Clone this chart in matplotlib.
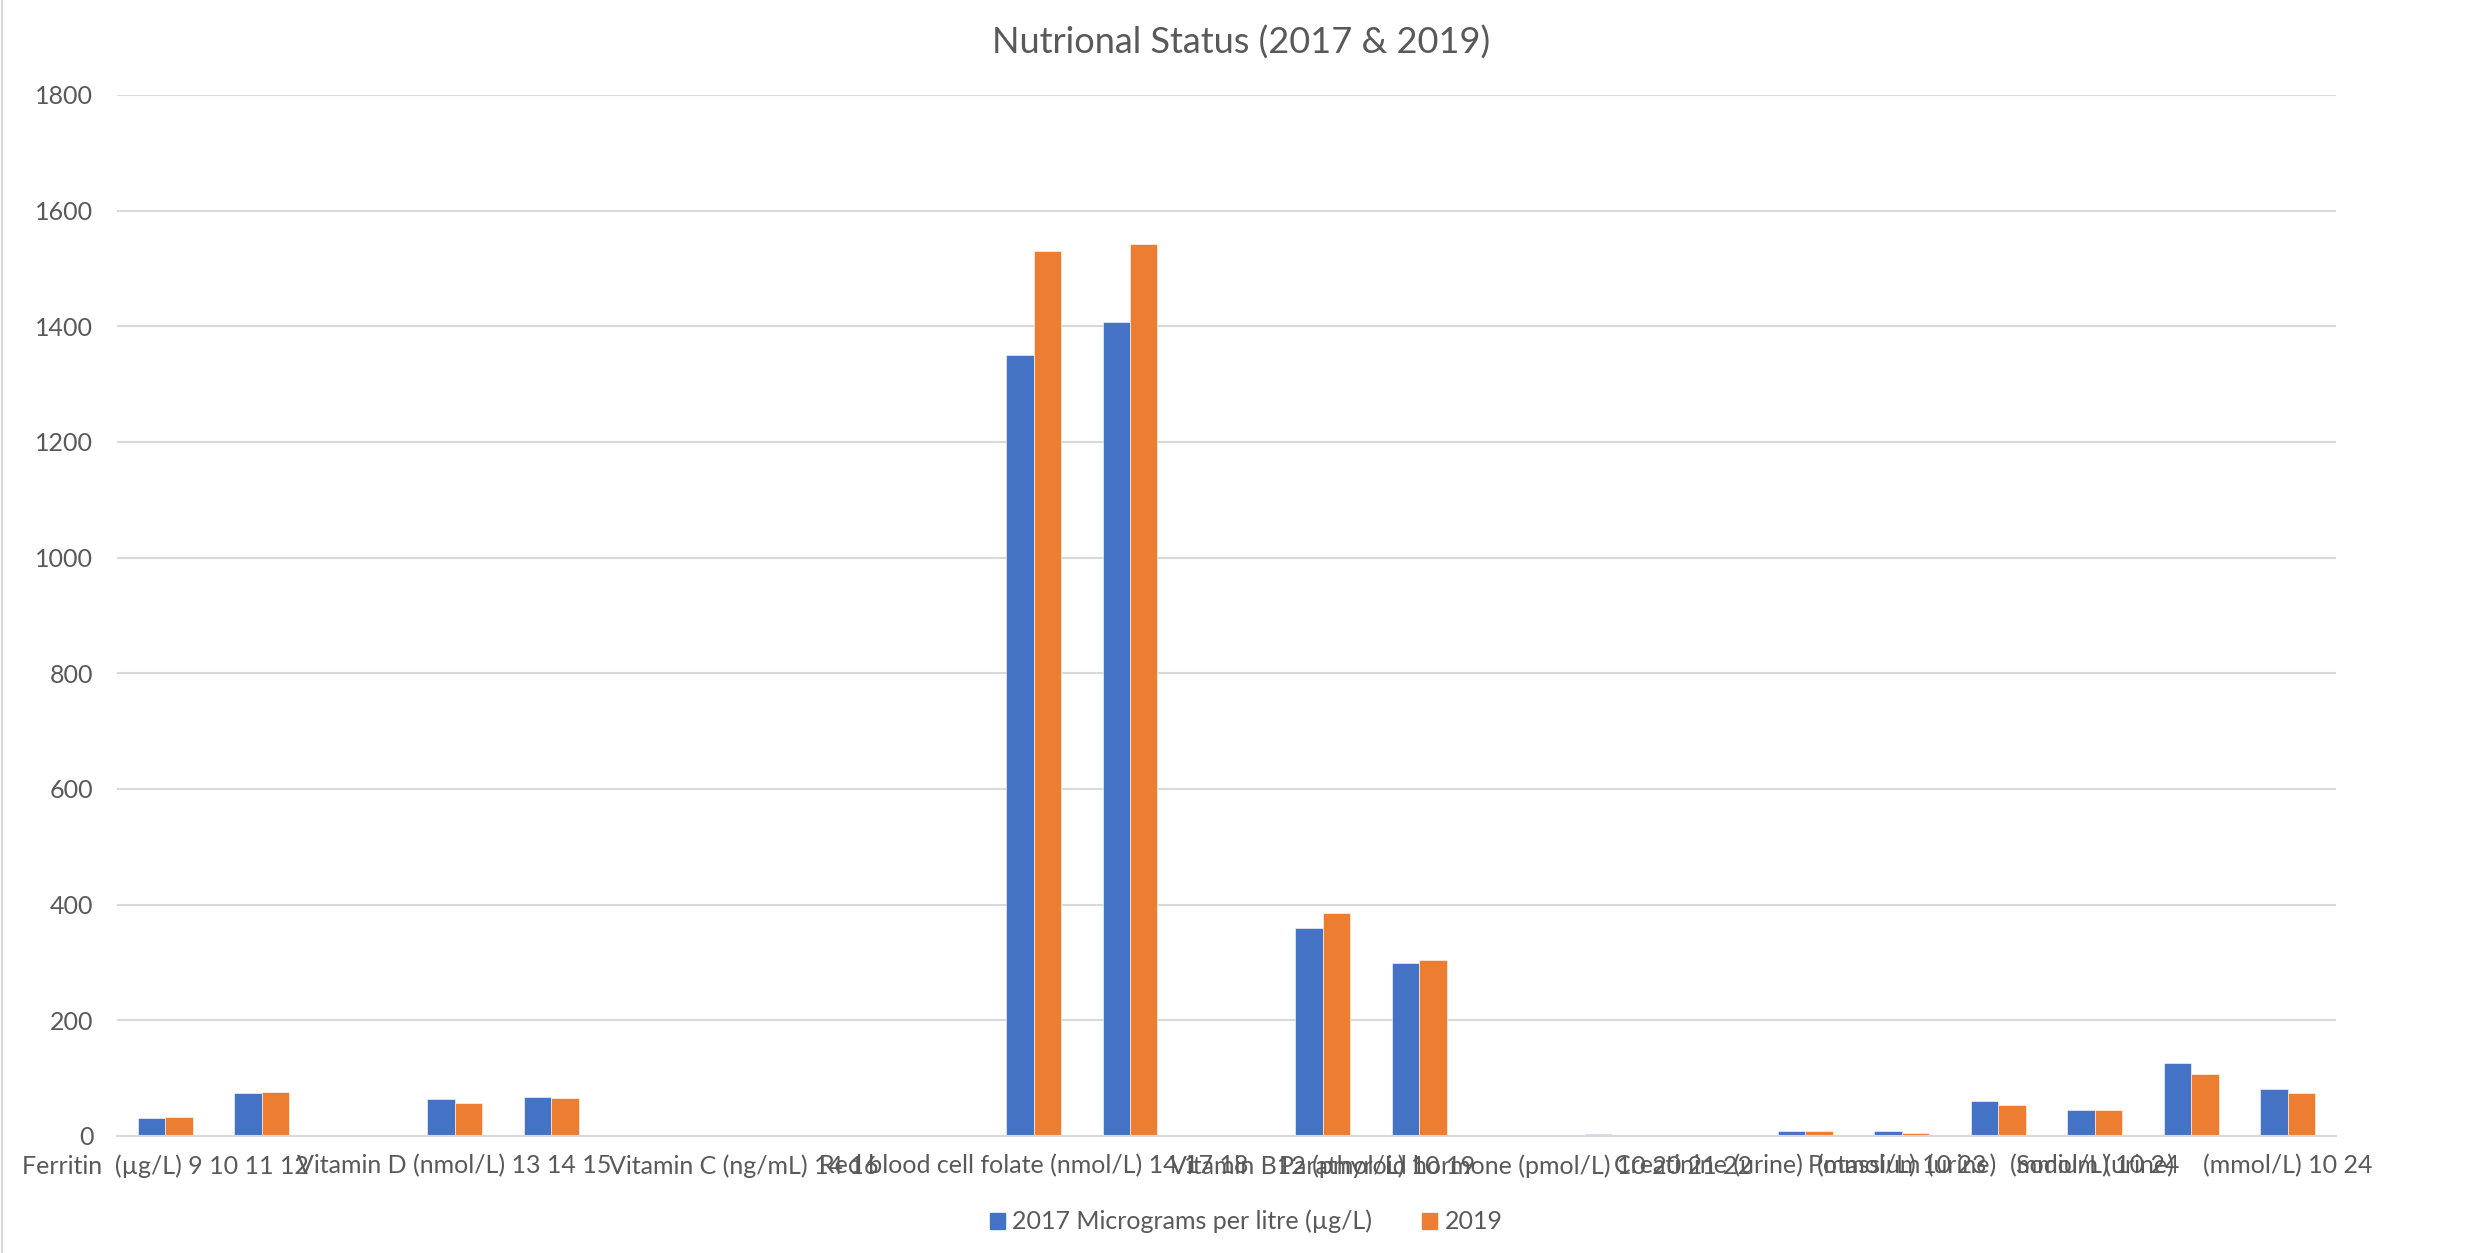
import numpy as np
import matplotlib
matplotlib.use("Agg")
import matplotlib.pyplot as plt
from matplotlib.patches import Patch
from matplotlib.ticker import FixedLocator, FixedFormatter

# Data (23 category slots, many empty)
values_2017 = [30.6, 73.8, 0, 63.4, 66.9, 0, 0, 0, 0, 1351, 1407, 0, 359, 299,
               0, 2.9, 0, 8.1, 8.1, 60, 45, 126, 82]
values_2019 = [32.3, 76, 0, 56.5, 65.2, 0, 0, 0, 0, 1531, 1542, 0, 386, 304,
               0, 2.3, 0, 8.1, 5.2, 53.6, 45, 106.7, 73.8]

# category labels (positions of the slots that carry a label)
label_pos = [0, 3, 6, 9, 12, 14, 16, 18, 20, 22]
label_text = ["Ferritin  (\u00b5g/L) 9 10 11 12",
              "Vitamin D (nmol/L) 13 14 15",
              "Vitamin C (ng/mL) 14 16",
              "Red blood cell folate (nmol/L) 14 17 18",
              "Vitamin B12 (pmol/L) 10 19",
              "Parathyroid hormone (pmol/L) 10 20 21 22",
              "Creatinine (urine)",
              "Potassium (urine)",
              "Sodium (urine)",
              "(mmol/L) 10 24"]
# second line of some labels, which Excel drew on top of the first
unit_pos = [18, 20]
unit_text = ["(mmol/L) 10 23", "(mmol/L) 10 24"]

series_names = ["2017 Micrograms per litre (\u00b5g/L)", "2019"]
title = "Nutrional Status (2017 & 2019)"

blue = "#4472C4"
orange = "#ED7D31"
grey_text = "#595959"
grid_col = "#D9D9D9"

plt.rcParams['font.family'] = ['Lato', 'DejaVu Sans']

fig = plt.figure(figsize=(24.83, 12.53), dpi=100)
ax = fig.add_axes([0.0471, 0.0934, 0.8937, 0.8308])

x = np.arange(len(values_2017))
w = 0.285
ax.bar(x - w / 2, values_2017, width=w, color=blue, edgecolor="white", linewidth=0.4)
ax.bar(x + w / 2, values_2019, width=w, color=orange, edgecolor="white", linewidth=0.4)

ax.set_xlim(-0.5, len(x) - 0.5)
ax.set_ylim(0, 1800)
ax.set_yticks(np.arange(0, 1801, 200))
ax.yaxis.grid(True, color=grid_col, linewidth=1.5)
ax.set_axisbelow(True)
for s in ["top", "right", "left"]:
    ax.spines[s].set_visible(False)
ax.spines["bottom"].set_color(grid_col)
ax.spines["bottom"].set_linewidth(1.5)

ax.xaxis.remove_overlapping_locs = False
ax.xaxis.set_major_locator(FixedLocator(label_pos))
ax.xaxis.set_major_formatter(FixedFormatter(label_text))
ax.xaxis.set_minor_locator(FixedLocator(unit_pos))
ax.xaxis.set_minor_formatter(FixedFormatter(unit_text))
ax.tick_params(axis="x", which="both", length=0, pad=13, labelsize=18, labelcolor=grey_text)
ax.tick_params(axis="y", length=0, pad=17, labelsize=18, labelcolor=grey_text)

fig.text(0.5, 0.9657, title, ha="center", va="center", fontsize=26, color=grey_text)

handles = [Patch(color=blue), Patch(color=orange)]
fig.legend(handles, series_names, loc="center", bbox_to_anchor=(0.502, 0.025), ncol=2,
           frameon=False, fontsize=18, labelcolor=grey_text, handlelength=0.6,
           handleheight=0.6, handletextpad=0.3, columnspacing=2.0)

# thin chart border on the left edge
fig.add_artist(plt.Line2D([0.001, 0.001], [0, 1], color=grid_col, linewidth=1.5))

fig.savefig("out.png", dpi=100, facecolor="white")
